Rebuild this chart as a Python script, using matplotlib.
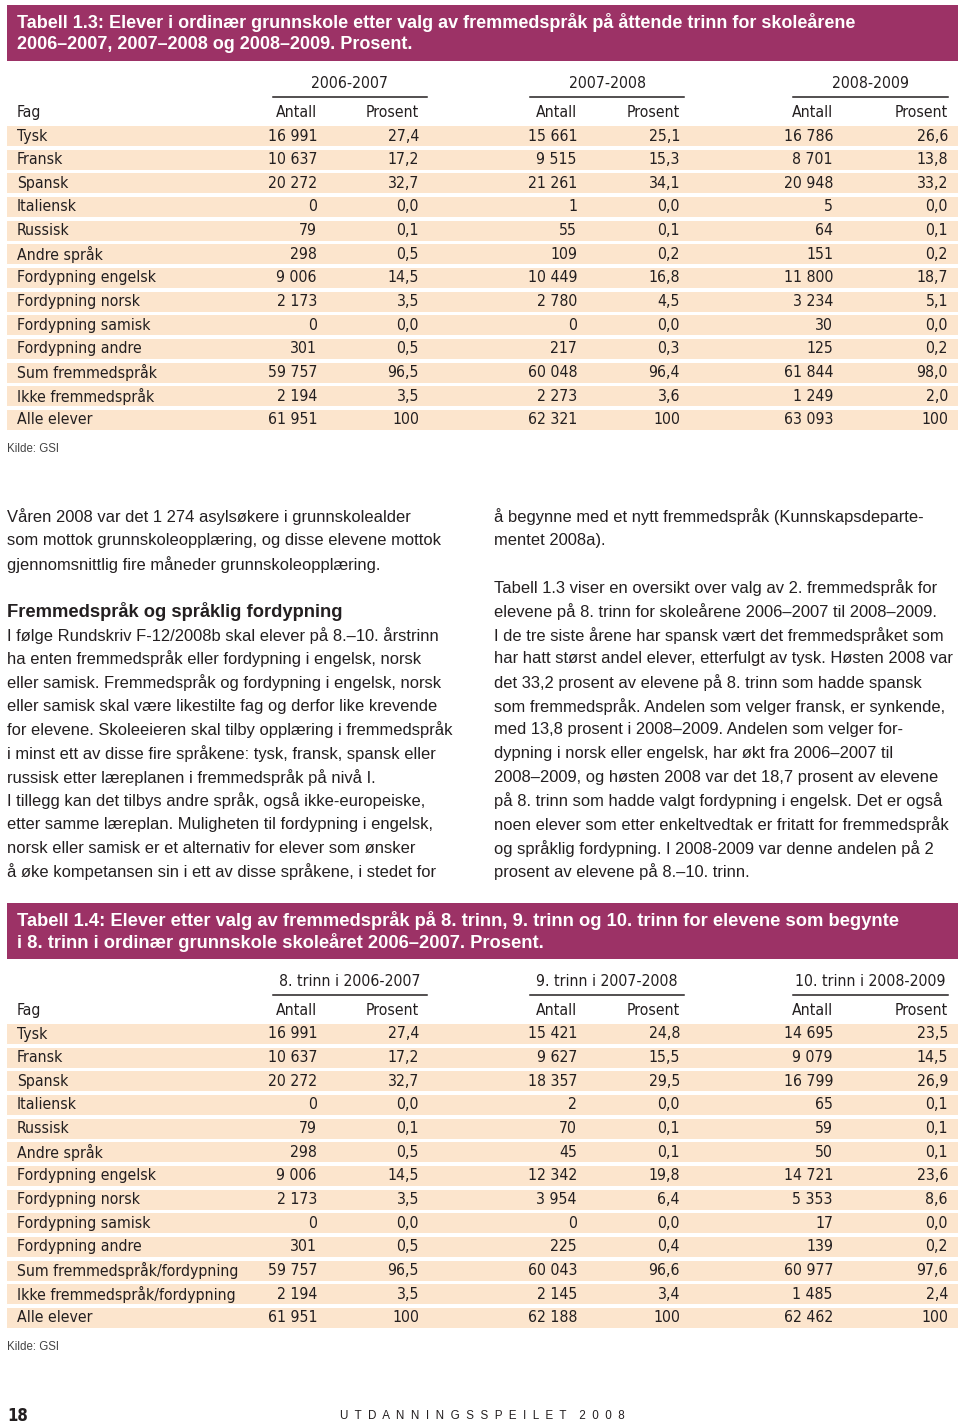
import matplotlib
matplotlib.use("Agg")
import matplotlib.pyplot as plt
from matplotlib.patches import Rectangle

# Table 1.3 data
fag_13 = ["Tysk", "Fransk", "Spansk", "Italiensk", "Russisk", "Andre språk",
          "Fordypning engelsk", "Fordypning norsk", "Fordypning samisk",
          "Fordypning andre", "Sum fremmedspråk", "Ikke fremmedspråk", "Alle elever"]
years_13 = ["2006-2007", "2007-2008", "2008-2009"]
antall_0607 = [16991, 10637, 20272, 0, 79, 298, 9006, 2173, 0, 301, 59757, 2194, 61951]
prosent_0607 = [27.4, 17.2, 32.7, 0.0, 0.1, 0.5, 14.5, 3.5, 0.0, 0.5, 96.5, 3.5, 100]
antall_0708 = [15661, 9515, 21261, 1, 55, 109, 10449, 2780, 0, 217, 60048, 2273, 62321]
prosent_0708 = [25.1, 15.3, 34.1, 0.0, 0.1, 0.2, 16.8, 4.5, 0.0, 0.3, 96.4, 3.6, 100]
antall_0809 = [16786, 8701, 20948, 5, 64, 151, 11800, 3234, 30, 125, 61844, 1249, 63093]
prosent_0809 = [26.6, 13.8, 33.2, 0.0, 0.1, 0.2, 18.7, 5.1, 0.0, 0.2, 98.0, 2.0, 100]

# Table 1.4 data
fag_14 = fag_13[:10] + ["Sum fremmedspråk/fordypning", "Ikke fremmedspråk/fordypning", "Alle elever"]
years_14 = ["8. trinn i 2006-2007", "9. trinn i 2007-2008", "10. trinn i 2008-2009"]
antall_8 = [16991, 10637, 20272, 0, 79, 298, 9006, 2173, 0, 301, 59757, 2194, 61951]
prosent_8 = [27.4, 17.2, 32.7, 0.0, 0.1, 0.5, 14.5, 3.5, 0.0, 0.5, 96.5, 3.5, 100]
antall_9 = [15421, 9627, 18357, 2, 70, 45, 12342, 3954, 0, 225, 60043, 2145, 62188]
prosent_9 = [24.8, 15.5, 29.5, 0.0, 0.1, 0.1, 19.8, 6.4, 0.0, 0.4, 96.6, 3.4, 100]
antall_10 = [14695, 9079, 16799, 65, 59, 50, 14721, 5353, 17, 139, 60977, 1485, 62462]
prosent_10 = [23.5, 14.5, 26.9, 0.1, 0.1, 0.1, 23.6, 8.6, 0.0, 0.2, 97.6, 2.4, 100]

title_13 = ["Tabell 1.3: Elever i ordinær grunnskole etter valg av fremmedspråk på åttende trinn for skoleårene",
            "2006–2007, 2007–2008 og 2008–2009. Prosent."]
title_14 = ["Tabell 1.4: Elever etter valg av fremmedspråk på 8. trinn, 9. trinn og 10. trinn for elevene som begynte",
            "i 8. trinn i ordinær grunnskole skoleåret 2006–2007. Prosent."]

left_text = [
    "Våren 2008 var det 1 274 asylsøkere i grunnskolealder",
    "som mottok grunnskoleopplæring, og disse elevene mottok",
    "gjennomsnittlig fire måneder grunnskoleopplæring.",
    "",
    "#Fremmedspråk og språklig fordypning",
    "I følge Rundskriv F-12/2008b skal elever på 8.–10. årstrinn",
    "ha enten fremmedspråk eller fordypning i engelsk, norsk",
    "eller samisk. Fremmedspråk og fordypning i engelsk, norsk",
    "eller samisk skal være likestilte fag og derfor like krevende",
    "for elevene. Skoleeieren skal tilby opplæring i fremmedspråk",
    "i minst ett av disse fire språkene: tysk, fransk, spansk eller",
    "russisk etter læreplanen i fremmedspråk på nivå I.",
    "I tillegg kan det tilbys andre språk, også ikke-europeiske,",
    "etter samme læreplan. Muligheten til fordypning i engelsk,",
    "norsk eller samisk er et alternativ for elever som ønsker",
    "å øke kompetansen sin i ett av disse språkene, i stedet for",
]
right_text = [
    "å begynne med et nytt fremmedspråk (Kunnskapsdeparte-",
    "mentet 2008a).",
    "",
    "Tabell 1.3 viser en oversikt over valg av 2. fremmedspråk for",
    "elevene på 8. trinn for skoleårene 2006–2007 til 2008–2009.",
    "I de tre siste årene har spansk vært det fremmedspråket som",
    "har hatt størst andel elever, etterfulgt av tysk. Høsten 2008 var",
    "det 33,2 prosent av elevene på 8. trinn som hadde spansk",
    "som fremmedspråk. Andelen som velger fransk, er synkende,",
    "med 13,8 prosent i 2008–2009. Andelen som velger for-",
    "dypning i norsk eller engelsk, har økt fra 2006–2007 til",
    "2008–2009, og høsten 2008 var det 18,7 prosent av elevene",
    "på 8. trinn som hadde valgt fordypning i engelsk. Det er også",
    "noen elever som etter enkeltvedtak er fritatt for fremmedspråk",
    "og språklig fordypning. I 2008-2009 var denne andelen på 2",
    "prosent av elevene på 8.–10. trinn.",
]

MAGENTA = "#9c3266"
PEACH = "#fce5cd"
INK = "#231f20"
NARROW = ["DejaVu Sans"]
BODY = ["Liberation Sans", "DejaVu Sans"]
TS = 11.3  # table font size


def fmt_antall(v):
    return f"{v:,}".replace(",", " ")


def fmt_pct(v):
    if v == 100:
        return "100"
    return f"{v:.1f}".replace(".", ",")


def ttext(ax, x, y, s, **kw):
    ax.text(x, y, s, fontsize=TS, family=NARROW, fontstretch="condensed",
            color=INK, va="center", **kw)


def draw_table(ax, top, titles, years, fag, cols, title_size):
    # title band
    ax.add_patch(Rectangle((7, top), 951, 56, color=MAGENTA, lw=0))
    for i, line in enumerate(titles):
        ax.text(17, top + 17 + i * 22, line, color="white", fontsize=title_size,
                fontweight="bold", family=BODY, va="center", ha="left")

    group_y = top + 78
    head_y = top + 107
    row0 = top + 131
    step = 23.65

    spans = [(273, 427), (530, 684), (793, 948)]
    right_edges = [(317, 419), (577, 680), (833, 948)]
    for (x0, x1), yr in zip(spans, years):
        ttext(ax, (x0 + x1) / 2, group_y, yr, ha="center")
        ax.plot([x0, x1], [group_y + 14, group_y + 14], color=INK, lw=1.1)
    ttext(ax, 17, head_y, "Fag")
    for xa, xp in right_edges:
        ttext(ax, xa, head_y, "Antall", ha="right")
        ttext(ax, xp, head_y, "Prosent", ha="right")

    ys = [row0 + i * step for i in range(len(fag))]
    ax.barh(ys, [951] * len(ys), left=7, height=20, color=PEACH, lw=0, zorder=0)
    for i, name in enumerate(fag):
        ttext(ax, 17, ys[i], name)
    for (xa, xp), (antall, pct) in zip(right_edges, cols):
        for i in range(len(fag)):
            ttext(ax, xa, ys[i], fmt_antall(antall[i]), ha="right")
            ttext(ax, xp, ys[i], fmt_pct(pct[i]), ha="right")
    ax.text(7, ys[-1] + 29, "Kilde: GSI", fontsize=8.3, family=BODY,
            color="#444444", va="center")


fig = plt.figure(figsize=(9.6, 14.25), dpi=100)
ax = fig.add_axes([0, 0, 1, 1])
ax.set_xlim(0, 960)
ax.set_ylim(1425, 0)
ax.axis("off")

draw_table(ax, 5, title_13, years_13, fag_13,
           [(antall_0607, prosent_0607), (antall_0708, prosent_0708), (antall_0809, prosent_0809)],
           12.95)
draw_table(ax, 903, title_14, years_14, fag_14,
           [(antall_8, prosent_8), (antall_9, prosent_9), (antall_10, prosent_10)],
           13.2)

# body text, two columns
line_h = 23.65
for x0, lines in [(7, left_text), (494, right_text)]:
    for i, line in enumerate(lines):
        y = 517 + i * line_h
        if line.startswith("#"):
            ax.text(x0, y, line[1:], fontsize=13.2, fontweight="bold", family=BODY,
                    color=INK, va="center")
        else:
            ax.text(x0, y, line, fontsize=11.85, family=BODY, color=INK, va="center")

# footer
ax.text(7, 1416, "18", fontsize=12, fontweight="bold", family=NARROW,
        fontstretch="condensed", color=INK, va="center")
ax.text(482, 1416, "  ".join("UTDANNINGSSPEILET") + "    " + "  ".join("2008"),
        fontsize=8.4, family=BODY, color=INK, ha="center", va="center")

fig.savefig("out.png", dpi=100)
